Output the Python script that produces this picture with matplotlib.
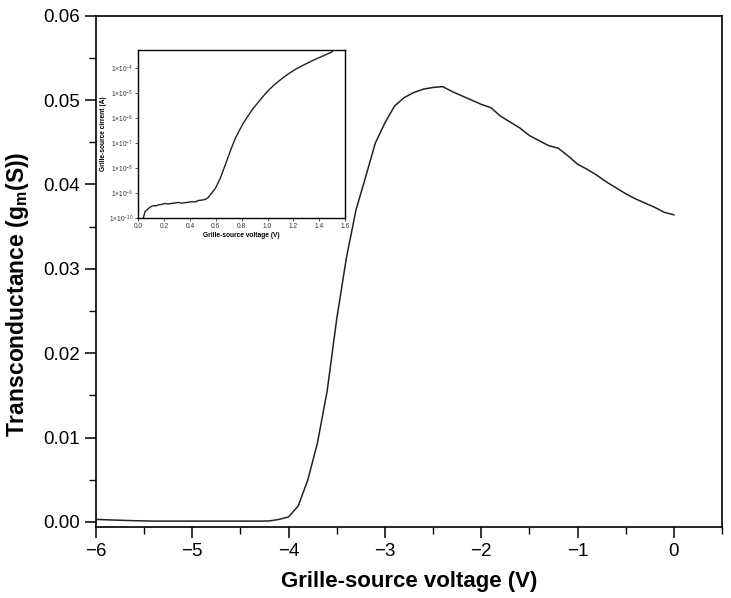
import matplotlib
matplotlib.use("Agg")
import matplotlib.pyplot as plt
from matplotlib.ticker import MultipleLocator, FixedLocator, NullLocator

plt.rcParams["font.family"] = ["Liberation Sans", "DejaVu Sans"]
plt.rcParams["mathtext.fontset"] = "custom"
plt.rcParams["mathtext.rm"] = "Liberation Sans"
plt.rcParams["mathtext.bf"] = "Liberation Sans:bold"

# ---- main curve: transconductance vs grille-source voltage ----
vgs = [-6.0, -5.8, -5.6, -5.4, -5.2, -5.0, -4.8, -4.6, -4.4, -4.3, -4.2,
       -4.1, -4.0, -3.9, -3.8, -3.7, -3.6, -3.5, -3.4, -3.3, -3.2, -3.1,
       -3.0, -2.9, -2.8, -2.7, -2.6, -2.5, -2.4, -2.3, -2.2, -2.1, -2.0,
       -1.9, -1.8, -1.7, -1.6, -1.5, -1.4, -1.3, -1.2, -1.1, -1.0, -0.9,
       -0.8, -0.7, -0.6, -0.5, -0.4, -0.3, -0.2, -0.1, 0.0]
gm = [0.0003, 0.00022, 0.00015, 0.0001, 0.0001, 0.0001, 0.0001, 0.0001,
      0.0001, 0.0001, 0.00012, 0.0003, 0.0006, 0.0019, 0.0050, 0.0094,
      0.0155, 0.0241, 0.0313, 0.0370, 0.0409, 0.0449, 0.0473, 0.0493,
      0.0503, 0.0509, 0.0513, 0.0515, 0.0516, 0.0510, 0.0505, 0.0500,
      0.0495, 0.0491, 0.0481, 0.0474, 0.0467, 0.0458, 0.0452, 0.0446,
      0.0443, 0.0434, 0.0424, 0.0418, 0.0411, 0.0403, 0.0396, 0.0389,
      0.0383, 0.0378, 0.0373, 0.0367, 0.0364]

# ---- inset: gate current (log) vs voltage ----
v_in = [0.039, 0.052, 0.078, 0.10, 0.117, 0.135, 0.155, 0.18, 0.207, 0.23,
        0.259, 0.285, 0.311, 0.335, 0.362, 0.39, 0.414, 0.44, 0.466, 0.49,
        0.518, 0.54, 0.557, 0.596, 0.634, 0.673, 0.70, 0.725, 0.75, 0.777,
        0.81, 0.854, 0.89, 0.932, 0.97, 1.010, 1.06, 1.113, 1.16, 1.217,
        1.28, 1.346, 1.42, 1.502]
logi_in = [-10.0, -9.76, -9.63, -9.55, -9.52, -9.53, -9.49, -9.47, -9.43,
           -9.45, -9.43, -9.41, -9.39, -9.42, -9.40, -9.38, -9.36, -9.37,
           -9.31, -9.30, -9.27, -9.20, -9.09, -8.83, -8.43, -7.89, -7.50,
           -7.16, -6.84, -6.56, -6.24, -5.89, -5.62, -5.36, -5.12, -4.89,
           -4.65, -4.43, -4.25, -4.06, -3.89, -3.72, -3.55, -3.36]
i_in = [10 ** v for v in logi_in]

x_ticks = [-6, -5, -4, -3, -2, -1, 0]
x_labels = ["\u22126", "\u22125", "\u22124", "\u22123", "\u22122", "\u22121", "0"]
y_ticks = [0.00, 0.01, 0.02, 0.03, 0.04, 0.05, 0.06]
inset_xticks = [0.0, 0.2, 0.4, 0.6, 0.8, 1.0, 1.2, 1.4, 1.6]
inset_yticks = [1e-10, 1e-9, 1e-8, 1e-7, 1e-6, 1e-5, 1e-4]

fig = plt.figure(figsize=(7.31, 5.98), dpi=100)
ax = fig.add_axes([0.1313, 0.1187, 0.8564, 0.855])
ax.plot(vgs, gm, color="#222222", lw=1.1)
ax.set_xlim(-6, 0.5)
ax.set_ylim(-0.0006, 0.06)
ax.set_xticks(x_ticks)
ax.set_xticklabels(x_labels)
ax.set_yticks(y_ticks)
ax.set_yticklabels([f"{t:.2f}" for t in y_ticks])
ax.xaxis.set_minor_locator(MultipleLocator(0.5))
ax.yaxis.set_minor_locator(MultipleLocator(0.005))
ax.tick_params(which="major", direction="out", length=8, width=1.1, labelsize=13.5)
ax.tick_params(which="minor", direction="out", length=5, width=1.0)
for s in ax.spines.values():
    s.set_linewidth(1.2)
ax.set_xlabel("Grille-source voltage (V)", fontsize=16, fontweight="bold", labelpad=8)
ax.set_ylabel(r"Transconductance (g$_\mathbf{m}$(S))", fontsize=16.5,
              fontweight="bold")
ax.yaxis.set_label_coords(-0.103, 0.456)

ins = fig.add_axes([0.1892, 0.636, 0.2828, 0.2804])
ins.plot(v_in, i_in, color="#222222", lw=1.0)
ins.set_yscale("log")
ins.set_xlim(0, 1.6)
ins.set_ylim(1e-10, 10 ** -3.29)
ins.set_xticks(inset_xticks)
ins.set_xticklabels([f"{t:.1f}" for t in inset_xticks])
ins.yaxis.set_major_locator(FixedLocator(inset_yticks))
ins.yaxis.set_minor_locator(NullLocator())
ins.set_yticklabels([r"$1{\times}10^{%d}$" % e for e in range(-10, -3)])
ins.tick_params(which="major", direction="out", length=2, width=0.6,
                labelsize=4.8, pad=1.5, colors="#333333")
for s in ins.spines.values():
    s.set_linewidth(1.0)
ins.set_xlabel("Grille-source voltage (V)", fontsize=4.8, fontweight="bold", labelpad=1.5)
ins.set_ylabel("Grille-source cirrent (A)", fontsize=4.8, fontweight="bold", labelpad=1.5)

fig.savefig("out.png", dpi=100)
